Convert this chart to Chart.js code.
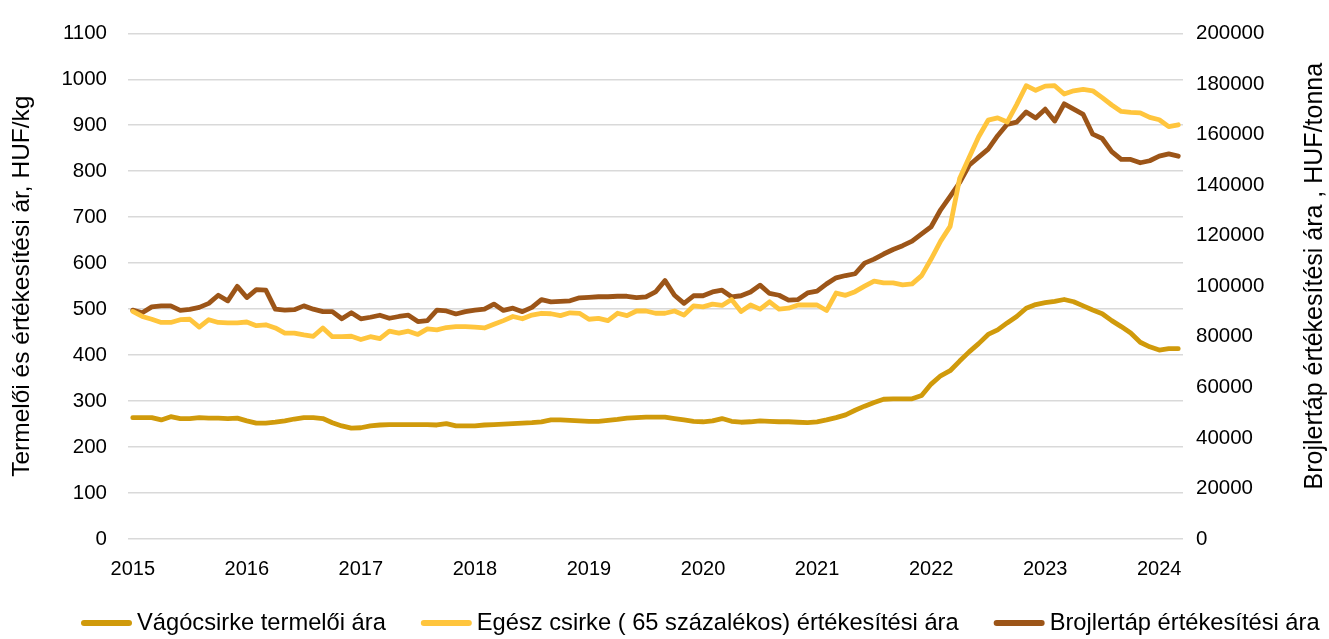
<!DOCTYPE html>
<html>
<head>
<meta charset="utf-8">
<script src="https://cdn.jsdelivr.net/npm/chart.js@4.4.1/dist/chart.umd.min.js"></script>
<style>
html,body{margin:0;padding:0;background:#ffffff;}
#wrap{width:1329px;height:639px;position:relative;}
</style>
</head>
<body>
<div id="wrap"><canvas id="c" width="1329" height="639"></canvas></div>
<script>
// ---- data (monthly, Jan 2015 – Mar 2024) ----
const years = [2015, 2016, 2017, 2018, 2019, 2020, 2021, 2022, 2023, 2024];
const lastYearMonths = 3;

const vagocsirke = [ // HUF/kg
  264,264,264,259,266,262,262,264,263,263,262,263,
  257,252,252,254,257,261,264,264,262,253,246,241,
  242,246,248,249,249,249,249,249,248,251,246,246,
  246,248,249,250,251,252,253,255,259,259,258,257,
  256,256,258,260,263,264,265,265,265,262,259,256,
  255,257,262,256,254,255,257,256,255,255,254,253,
  255,259,264,270,280,289,297,304,305,305,305,312,
  337,355,366,387,407,425,445,455,470,484,502,510,
  514,517,521,516,507,498,490,475,462,448,428,418,
  411,414,414
];
const egeszCsirke = [ // HUF/kg
  495,484,478,471,471,477,478,461,477,471,470,470,
  472,464,466,459,448,448,444,441,459,440,440,441,
  434,440,436,452,448,452,445,457,455,460,462,462,
  461,459,467,475,484,479,487,491,490,486,492,491,
  478,480,475,491,486,496,496,491,491,496,487,507,
  505,511,508,521,495,509,500,516,500,502,509,509,
  509,497,535,530,538,550,561,557,557,553,555,573,
  609,648,680,784,830,875,911,916,907,945,986,976,
  985,986,968,975,978,975,960,944,930,928,927,917,
  912,897,901
];
const brojlertap = [ // HUF/tonna
  90500,89500,91800,92200,92200,90400,90800,91600,93200,96400,94200,99900,
  95500,98600,98400,90900,90500,90700,92200,90900,89900,89900,87100,89500,
  87100,87700,88500,87300,88000,88500,86000,86400,90500,90200,89000,89900,
  90500,90900,92900,90400,91300,89900,91600,94700,93800,94000,94200,95400,
  95600,95800,95800,96000,96000,95500,95800,97700,102200,96400,93200,96200,
  96200,97700,98400,95800,96200,97700,100400,97100,96400,94500,94700,97300,
  98000,100900,103300,104200,104900,109100,110700,112700,114500,116000,117800,120700,
  123500,130200,135500,141000,147800,151000,154200,159500,164000,164900,168900,166500,
  170000,165300,172100,170000,167900,160100,158400,153200,150100,150100,148800,149600,
  151400,152300,151400
];

const seriesNames = [
  "Vágócsirke termelői ára",
  "Egész csirke ( 65 százalékos) értékesítési ára",
  "Brojlertáp értékesítési ára"
];
const leftTitle = "Termelői és értékesítési ár, HUF/kg";
const rightTitle = "Brojlertáp értékesítési ára , HUF/tonna";

// categories
const months = [];
years.forEach((y, yi) => {
  const n = (yi === years.length - 1) ? lastYearMonths : 12;
  for (let m = 1; m <= n; m++) months.push(y + "." + String(m).padStart(2, "0"));
});

const FONT = "'Liberation Sans', Arial, Helvetica, sans-serif";
const COL_VAGO = "#D09A0B";
const COL_EGESZ = "#FFC53D";
const COL_BROJ = "#9C5518";

// legend drawn on the canvas from the datasets
const bottomLegend = {
  id: "bottomLegend",
  afterDraw(chart) {
    const ctx = chart.ctx;
    const y = 623;
    let x = 81;
    ctx.save();
    ctx.font = "23.7px " + FONT;
    ctx.textBaseline = "middle";
    ctx.textAlign = "left";
    chart.data.datasets.forEach((ds) => {
      ctx.strokeStyle = ds.borderColor;
      ctx.lineWidth = 6;
      ctx.lineCap = "round";
      ctx.beginPath();
      ctx.moveTo(x + 3, y);
      ctx.lineTo(x + 48, y);
      ctx.stroke();
      ctx.fillStyle = "#000";
      ctx.fillText(ds.label, x + 56, y);
      x += 56 + ctx.measureText(ds.label).width + 35;
    });
    ctx.restore();
  }
};

const axisTitles = {
  id: "axisTitles",
  afterDraw(chart) {
    const ctx = chart.ctx;
    const ca = chart.chartArea;
    const cy = (ca.top + ca.bottom) / 2;
    [[leftTitle, 22, cy, 24.5], [rightTitle, 1315, cy - 10, 25]].forEach(([t, x, y, fs]) => {
      ctx.save();
      ctx.fillStyle = "#000";
      ctx.font = fs + "px " + FONT;
      ctx.textAlign = "center";
      ctx.textBaseline = "middle";
      ctx.translate(x, y);
      ctx.rotate(-Math.PI / 2);
      ctx.fillText(t, 0, 0);
      ctx.restore();
    });
  }
};

const lineDs = (label, data, color, axis) => ({
  label, data, yAxisID: axis,
  borderColor: color, backgroundColor: color,
  borderWidth: 4.8, pointRadius: 0, pointHoverRadius: 0,
  tension: 0, borderJoinStyle: "round", borderCapStyle: "round",
  fill: false
});

new Chart(document.getElementById("c"), {
  type: "line",
  data: {
    labels: months,
    datasets: [
      lineDs(seriesNames[0], vagocsirke, COL_VAGO, "y"),
      lineDs(seriesNames[1], egeszCsirke, COL_EGESZ, "y"),
      lineDs(seriesNames[2], brojlertap, COL_BROJ, "y1")
    ]
  },
  options: {
    responsive: false,
    devicePixelRatio: 1,
    animation: false,
    events: [],
    layout: { padding: { top: 26, left: 0, right: 0, bottom: 32 } },
    plugins: {
      tooltip: { enabled: false },
      legend: { display: false }
    },
    scales: {
      x: {
        type: "category",
        offset: true,
        grid: { display: false },
        border: { display: false },
        ticks: {
          autoSkip: false, maxRotation: 0, minRotation: 0,
          padding: 10, color: "#000",
          font: { family: FONT, size: 20 },
          callback: (v, i) => (i % 12 === 0 ? String(years[i / 12]) : "")
        },
        afterFit: (s) => { s.height = 68; }
      },
      y: {
        position: "left",
        min: 0, max: 1100,
        grid: { color: "#d9d9d9", lineWidth: 1.5, drawTicks: false },
        border: { display: false },
        ticks: {
          stepSize: 100, padding: 21, color: "#000",
          font: { family: FONT, size: 20.5 },
          callback: (v) => String(v)
        },
        afterFit: (s) => { s.width = 128; }
      },
      y1: {
        position: "right",
        min: 0, max: 200000,
        grid: { display: false, drawTicks: false },
        border: { display: false },
        ticks: {
          stepSize: 20000, padding: 13, color: "#000",
          font: { family: FONT, size: 20.5 },
          callback: (v) => String(v)
        },
        afterFit: (s) => { s.width = 146; }
      }
    }
  },
  plugins: [bottomLegend, axisTitles]
});
</script>
</body>
</html>
